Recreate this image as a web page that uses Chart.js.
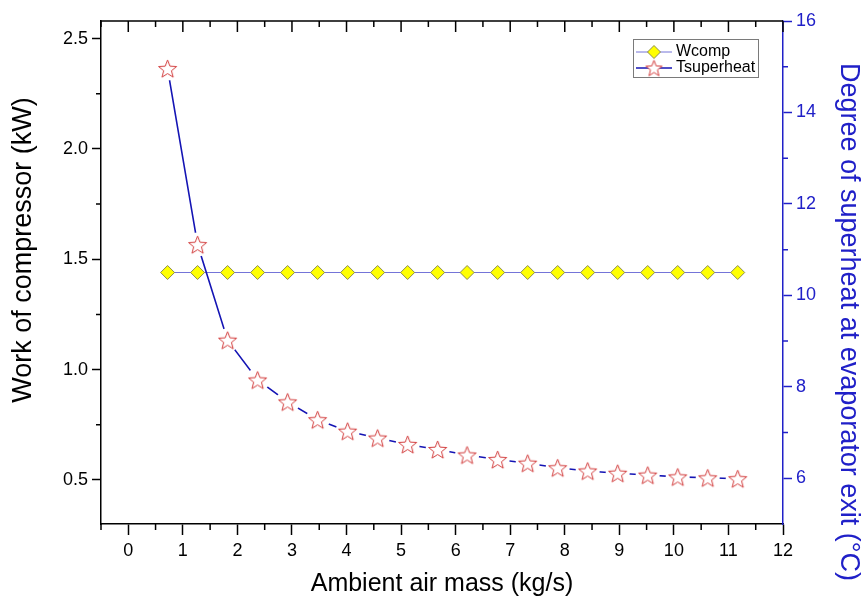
<!DOCTYPE html>
<html lang="en">
<head>
<meta charset="UTF-8">
<title>Compressor work and degree of superheat</title>
<script src="https://cdn.jsdelivr.net/npm/chart.js@4.4.1/dist/chart.umd.min.js"></script>
<style>
  html, body { margin: 0; padding: 0; background: #fff; }
</style>
</head>
<body>
<canvas id="chart" width="864" height="604"></canvas>
<script>
// ambient air mass (kg/s)
const airMass = [0.72, 1.27, 1.82, 2.37, 2.92, 3.47, 4.02, 4.57, 5.12, 5.67,
                 6.21, 6.77, 7.32, 7.87, 8.42, 8.97, 9.52, 10.07, 10.62, 11.17];
// work of compressor (kW)
const wComp = [1.44, 1.44, 1.44, 1.44, 1.44, 1.44, 1.44, 1.44, 1.44, 1.44,
               1.44, 1.44, 1.44, 1.44, 1.44, 1.44, 1.44, 1.44, 1.44, 1.44];
// degree of superheat at evaporator exit (°C)
const tSuperheat = [14.96, 11.11, 9.02, 8.15, 7.67, 7.28, 7.03, 6.88, 6.74, 6.63,
                    6.51, 6.41, 6.33, 6.23, 6.16, 6.11, 6.07, 6.03, 6.01, 5.99];

const xTicks = [0, 1, 2, 3, 4, 5, 6, 7, 8, 9, 10, 11, 12];
const yTicks = [0.5, 1.0, 1.5, 2.0, 2.5];
const y2Ticks = [6, 8, 10, 12, 14, 16];

const FONT = '"Liberation Sans", Arial, sans-serif';
const BLUE = '#2020c8';
Chart.defaults.font.family = FONT;

// hollow five-pointed star used as the Tsuperheat symbol
function starImage(r) {
  const size = Math.ceil(r * 2 + 4);
  const c = document.createElement('canvas');
  c.width = c.height = size;
  const g = c.getContext('2d');
  const cx = size / 2, cy = size / 2 + r * 0.1;
  g.beginPath();
  for (let i = 0; i < 10; i++) {
    const a = -Math.PI / 2 + i * Math.PI / 5;
    const rr = i % 2 ? r * 0.43 : r;
    g.lineTo(cx + rr * Math.cos(a), cy + rr * Math.sin(a));
  }
  g.closePath();
  g.fillStyle = '#fff';
  g.fill();
  g.strokeStyle = '#d23c3c';
  g.lineWidth = 1;
  g.stroke();
  return c;
}
const star = starImage(9.5);
const legendStar = starImage(8.5);

const pts = ys => airMass.map((x, i) => ({ x: x, y: ys[i] }));

// minor ticks, top frame, legend and the two y axis titles
const decor = {
  id: 'decor',
  afterDraw(chart) {
    const { ctx, chartArea: ca, scales } = chart;
    const { x, y, y2 } = scales;
    ctx.save();
    ctx.lineWidth = 1.5;

    // top frame with inward ticks
    ctx.strokeStyle = '#000';
    ctx.beginPath();
    ctx.moveTo(ca.left, ca.top);
    ctx.lineTo(ca.right, ca.top);
    for (let v = -0.5; v <= 12; v += 0.5) {
      const px = x.getPixelForValue(v);
      const len = Number.isInteger(v) ? 11 : 6;
      ctx.moveTo(px, ca.top);
      ctx.lineTo(px, ca.top + len);
    }
    // bottom minor ticks
    for (let v = -0.5; v < 12; v += 1) {
      const px = x.getPixelForValue(v);
      ctx.moveTo(px, ca.bottom);
      ctx.lineTo(px, ca.bottom + 6);
    }
    // left minor ticks
    for (const v of [0.75, 1.25, 1.75, 2.25]) {
      const py = y.getPixelForValue(v);
      ctx.moveTo(ca.left, py);
      ctx.lineTo(ca.left - 5, py);
    }
    ctx.stroke();

    // right minor ticks
    ctx.strokeStyle = BLUE;
    ctx.beginPath();
    for (const v of [7, 9, 11, 13, 15]) {
      const py = y2.getPixelForValue(v);
      ctx.moveTo(ca.right, py);
      ctx.lineTo(ca.right + 5, py);
    }
    ctx.stroke();

    // y axis titles
    ctx.textAlign = 'center';
    ctx.textBaseline = 'middle';
    ctx.font = '27px ' + FONT;

    ctx.save();
    ctx.translate(24, 250);
    ctx.rotate(-Math.PI / 2);
    ctx.fillStyle = '#000';
    ctx.fillText('Work of compressor (kW)', 0, 0);
    ctx.restore();

    ctx.save();
    ctx.translate(848, 322);
    ctx.rotate(Math.PI / 2);
    ctx.fillStyle = BLUE;
    ctx.fillText('Degree of superheat at evaporator exit (\u00B0C)', 0, 0);
    ctx.restore();

    // legend
    const bx = ca.right - 150, by = ca.top + 18, bw = 125, bh = 38;
    ctx.fillStyle = '#fff';
    ctx.fillRect(bx, by, bw, bh);
    ctx.lineWidth = 1;
    ctx.strokeStyle = '#7a7a7a';
    ctx.strokeRect(bx + 0.5, by + 0.5, bw, bh);
    const rows = [by + 13, by + 29];

    ctx.strokeStyle = '#7474d8';
    ctx.lineWidth = 1;
    ctx.beginPath();
    ctx.moveTo(bx + 3, rows[0]);
    ctx.lineTo(bx + 39, rows[0]);
    ctx.stroke();
    const dx = bx + 21, r = 6.5;
    ctx.beginPath();
    ctx.moveTo(dx, rows[0] - r);
    ctx.lineTo(dx + r, rows[0]);
    ctx.lineTo(dx, rows[0] + r);
    ctx.lineTo(dx - r, rows[0]);
    ctx.closePath();
    ctx.fillStyle = '#ffff00';
    ctx.fill();
    ctx.strokeStyle = '#8c8c50';
    ctx.stroke();

    ctx.strokeStyle = '#1414b4';
    ctx.lineWidth = 1.6;
    ctx.beginPath();
    ctx.moveTo(bx + 3, rows[1]);
    ctx.lineTo(bx + 39, rows[1]);
    ctx.stroke();
    ctx.drawImage(legendStar, dx - legendStar.width / 2, rows[1] - legendStar.height / 2);

    ctx.fillStyle = '#000';
    ctx.font = '16px ' + FONT;
    ctx.textAlign = 'left';
    ctx.fillText('Wcomp', bx + 43, rows[0]);
    ctx.fillText('Tsuperheat', bx + 43, rows[1]);
    ctx.restore();
  }
};

new Chart(document.getElementById('chart'), {
  type: 'line',
  data: {
    datasets: [
      {
        label: 'Wcomp',
        data: pts(wComp),
        yAxisID: 'y',
        borderColor: '#7474d8',
        borderWidth: 1,
        pointStyle: 'rectRot',
        pointRadius: 7,
        pointBackgroundColor: '#ffff00',
        pointBorderColor: '#8c8c50',
        pointBorderWidth: 1,
        order: 4
      },
      {
        label: 'Tsuperheat',
        data: pts(tSuperheat),
        yAxisID: 'y2',
        borderColor: '#1414b4',
        borderWidth: 1.6,
        pointRadius: 0,
        order: 3
      },
      {
        // white gap around each star symbol
        label: 'gap',
        data: pts(tSuperheat),
        yAxisID: 'y2',
        showLine: false,
        pointRadius: 12,
        pointBackgroundColor: '#fff',
        pointBorderWidth: 0,
        order: 2
      },
      {
        label: 'Tsuperheat symbols',
        data: pts(tSuperheat),
        yAxisID: 'y2',
        showLine: false,
        pointStyle: star,
        order: 1
      }
    ]
  },
  options: {
    responsive: false,
    animation: false,
    events: [],
    layout: { padding: { top: 21, left: 0, right: 0, bottom: 0 } },
    plugins: { legend: { display: false }, tooltip: { enabled: false } },
    elements: { line: { tension: 0 } },
    scales: {
      x: {
        type: 'linear',
        min: -0.5,
        max: 12,
        afterBuildTicks: s => { s.ticks = xTicks.map(v => ({ value: v })); },
        afterFit: s => { s.height = 80; },
        grid: { drawOnChartArea: false, tickLength: 11, color: '#000', tickWidth: 1.5 },
        border: { color: '#000', width: 1.5 },
        ticks: { color: '#000', font: { size: 18 }, padding: 5, maxRotation: 0, autoSkip: false },
        title: {
          display: true,
          text: 'Ambient air mass (kg/s)',
          color: '#000',
          font: { size: 25 },
          padding: { top: 0, bottom: 5 }
        }
      },
      y: {
        position: 'left',
        min: 0.3,
        max: 2.58,
        afterBuildTicks: s => { s.ticks = yTicks.map(v => ({ value: v })); },
        afterFit: s => { s.width = 101; },
        grid: { drawOnChartArea: false, tickLength: 9, color: '#000', tickWidth: 1.5 },
        border: { color: '#000', width: 1.5 },
        ticks: { color: '#000', font: { size: 18 }, padding: 4, callback: v => v.toFixed(1) }
      },
      y2: {
        position: 'right',
        min: 5,
        max: 16,
        afterBuildTicks: s => { s.ticks = y2Ticks.map(v => ({ value: v })); },
        afterFit: s => { s.width = 81; },
        grid: { drawOnChartArea: false, tickLength: 9, color: BLUE, tickWidth: 1.5 },
        border: { color: BLUE, width: 1.5 },
        ticks: { color: BLUE, font: { size: 18 }, padding: 4 }
      }
    }
  },
  plugins: [decor]
});
</script>
</body>
</html>
